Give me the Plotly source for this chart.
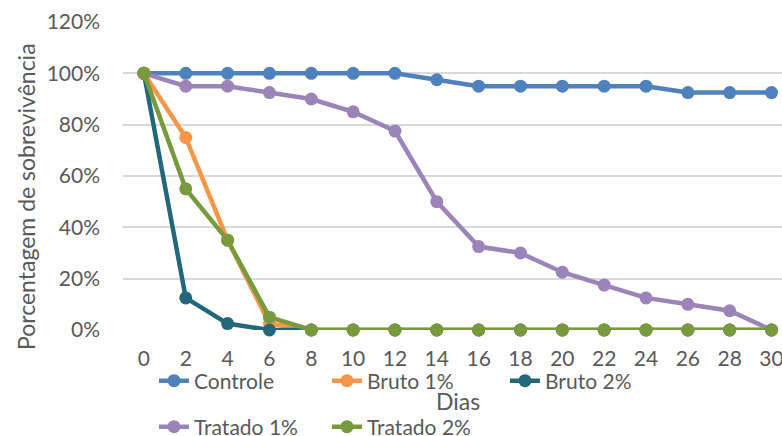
import plotly.graph_objects as go

# Survival over time for each treatment
dias = [0, 2, 4, 6, 8, 10, 12, 14, 16, 18, 20, 22, 24, 26, 28, 30]
controle = [100, 100, 100, 100, 100, 100, 100, 97.5, 95, 95, 95, 95, 95, 92.5, 92.5, 92.5]
bruto_1 = [100, 75, 35, 2.5, 0, 0, 0, 0, 0, 0, 0, 0, 0, 0, 0, 0]
bruto_2 = [100, 12.5, 2.5, 0, 0, 0, 0, 0, 0, 0, 0, 0, 0, 0, 0, 0]
tratado_1 = [100, 95, 95, 92.5, 90, 85, 77.5, 50, 32.5, 30, 22.5, 17.5, 12.5, 10, 7.5, 0]
tratado_2 = [100, 55, 35, 5, 0, 0, 0, 0, 0, 0, 0, 0, 0, 0, 0, 0]

y_ticks = [0, 20, 40, 60, 80, 100, 120]
y_tick_labels = [f"{v}%" for v in y_ticks]

W, H = 782, 436
L, R, T, B = 123, 0, 22, 106
FONT = "Lato, Carlito, Calibri, sans-serif"
GREY = "#595959"
TICK_SIZE = 21
TITLE_SIZE = 23

# name, values, colour, legend slot position (left px, centre px)
series = [
    ("Controle", controle, "#4F81BD", (154, 381)),
    ("Bruto 1%", bruto_1, "#F79646", (327, 381)),
    ("Bruto 2%", bruto_2, "#22687A", (505, 381)),
    ("Tratado 1%", tratado_1, "#9A84B8", (154, 427)),
    ("Tratado 2%", tratado_2, "#789A3C", (327, 427)),
]


def px_x(p):
    return (p - L) / (W - L - R)


def px_y(p):
    return (H - B - p) / (H - T - B)


fig = go.Figure()
legends = {}
for i, (name, vals, color, (lx, ly)) in enumerate(series):
    key = "legend" if i == 0 else f"legend{i + 1}"
    fig.add_trace(go.Scatter(
        x=dias, y=[v / 100 for v in vals], name=name, mode="lines+markers",
        line=dict(color=color, width=4.5),
        marker=dict(color=color, size=13),
        legend=key, cliponaxis=False,
    ))
    legends[key] = dict(
        x=px_x(lx), y=px_y(ly), xanchor="left", yanchor="middle",
        orientation="h", bgcolor="rgba(0,0,0,0)", borderwidth=0,
        font=dict(family=FONT, size=TICK_SIZE, color=GREY),
        itemwidth=30,
    )

fig.update_layout(
    width=W, height=H,
    margin=dict(l=L, r=R, t=T, b=B, pad=0, autoexpand=False),
    paper_bgcolor="white", plot_bgcolor="white",
    font=dict(family=FONT, size=TICK_SIZE, color=GREY),
    showlegend=True,
    xaxis=dict(
        range=[-1.0, 30.5], tickmode="array", tickvals=dias,
        ticktext=[str(d) for d in dias], showgrid=False, zeroline=False,
        showline=False, ticks="", ticklabelstandoff=14,
        ticklabeloverflow="allow",
        tickfont=dict(family=FONT, size=TICK_SIZE, color=GREY),
    ),
    yaxis=dict(
        range=[0, 1.2], tickmode="array", tickvals=[v / 100 for v in y_ticks],
        ticktext=y_tick_labels, showgrid=True, gridcolor="#D9D9D9", gridwidth=1.5,
        zeroline=False, showline=False, ticks="", ticklabelstandoff=22,
        tickfont=dict(family=FONT, size=TICK_SIZE, color=GREY),
    ),
    annotations=[
        dict(text="Dias", xref="paper", yref="paper", x=px_x(458), y=px_y(401),
             xanchor="center", yanchor="middle", showarrow=False,
             font=dict(family=FONT, size=TITLE_SIZE, color=GREY)),
        dict(text="Porcentagem de sobrevivência", xref="paper", yref="paper",
             x=px_x(26), y=px_y(197), xanchor="center", yanchor="middle",
             textangle=-90, showarrow=False,
             font=dict(family=FONT, size=TITLE_SIZE, color=GREY)),
    ],
)
fig.update_layout(**legends)

fig.write_html("out.html")
